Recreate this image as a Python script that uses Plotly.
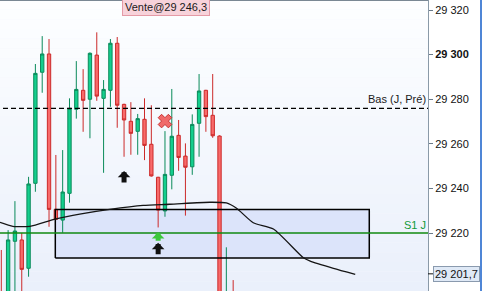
import plotly.graph_objects as go

# ---------------- data ----------------
slots = list(range(35))
opens = [29192, 29188, 29216.3, 29216.9, 29204.2, 29242.3, 29292.1, 29300.3, 29230.6, 29225.8,
         29237.8, 29275.5, 29284.0, 29280.0, 29299.8, 29280.4, 29284.0, 29305.1, 29277.7, 29270.1,
         29265.6, 29271.0, 29259.8, 29245.0, 29229.9, 29245.9, 29263.8, 29254.5, 29249.7, 29269.2,
         29284.0, 29272.8, 29263.5, 29172, 29190]
highs = [29212.4, 29221.3, 29234.3, 29220.0, 29245.2, 29295.8, 29308.3, 29307.0, 29255.0, 29257.2,
         29280.4, 29297.1, 29293.5, 29301.0, 29310.0, 29288.6, 29307.0, 29307.9, 29278.0, 29278.7,
         29273.4, 29280.4, 29277.3, 29245.2, 29265.7, 29284.6, 29270.7, 29260.2, 29273.2, 29291.3,
         29284.2, 29291.3, 29263.8, 29213.6, 29198.9]
lows = [29178, 29184, 29186, 29188, 29200.4, 29238.5, 29282.9, 29222.8, 29225.9, 29220.1,
        29233.6, 29271.3, 29265.4, 29262.5, 29279.3, 29247.0, 29276.6, 29267.2, 29254.2, 29255.1,
        29255.1, 29252.7, 29245.3, 29222.5, 29227.3, 29239.6, 29247.9, 29227.8, 29246.1, 29254.2,
        29265.4, 29262.7, 29170, 29165, 29175]
closes = [29184, 29216.9, 29220.9, 29203.7, 29242.0, 29291.6, 29300.3, 29230.6, 29226.1, 29238.4,
          29275.9, 29284.4, 29279.5, 29300.6, 29281.4, 29284.4, 29305.1, 29277.3, 29270.7, 29264.7,
          29271.3, 29259.3, 29245.6, 29230.3, 29246.3, 29263.4, 29253.9, 29249.5, 29268.7, 29283.7,
          29272.2, 29263.6, 29182, 29186, 29180]

ma_x = [-0.19, 1.7, 4.2, 7.6, 9.6, 11.5, 15.9, 20.8, 24.7, 30.6, 33.0, 34.5, 36.95, 39.9, 44.3, 45.3, 48.7, 51.9]
ma_y = [29224.8, 29223.0, 29223.0, 29226.0, 29227.4, 29228.5, 29230.6, 29232.4, 29232.9, 29233.8,
        29233.5, 29231.1, 29224.6, 29221.8, 29208.9, 29207.4, 29204.2, 29201.5]

zone_x = [7.92, 53.96]
zone_y = [29208.8, 29230.6]

s1_level = 29220.0
s1_label = "S1 J"
bas_level = 29275.9
bas_label = "Bas (J, Pré)"

sell_slot = 24
sell_price = 29270.2
sell_label = "Vente@29 246,3"

buy_slots = [18, 23]
buy_prices = [29247.8, 29215.6]
green_slot = 23
green_price = 29220.4

last_price_label = "29 201,7"
last_price = 29201.7

tick_vals = [29220, 29240, 29260, 29280, 29300, 29320]
tick_text = ["29 220", "29 240", "29 260", "29 280", "<b>29 300</b>", "29 320"]

x_range = [-0.19, 62.57]
y_range = [29194.0, 29324.5]

FONT = "Liberation Sans, Arial, sans-serif"

fig = go.Figure()

# zone rectangle outline (fill is a layout shape underneath the candles)
fig.add_trace(go.Scatter(
    x=[zone_x[0], zone_x[1], zone_x[1], zone_x[0], zone_x[0]],
    y=[zone_y[0], zone_y[0], zone_y[1], zone_y[1], zone_y[0]],
    mode="lines", line=dict(color="#000000", width=1.5), hoverinfo="skip", showlegend=False))

# S1 line
fig.add_trace(go.Scatter(x=x_range, y=[s1_level, s1_level], mode="lines",
                         line=dict(color="#108a10", width=1.5), hoverinfo="skip", showlegend=False))
# Bas dashed line
fig.add_trace(go.Scatter(x=[0.25, x_range[1]], y=[bas_level, bas_level], mode="lines",
                         line=dict(color="#000000", width=1.3, dash="5px,3px"),
                         hoverinfo="skip", showlegend=False))

# moving average
fig.add_trace(go.Scatter(x=ma_x, y=ma_y, mode="lines", line=dict(color="#151515", width=1.3, shape="spline", smoothing=0.6),
                         hoverinfo="skip", showlegend=False))

# candles
fig.add_trace(go.Candlestick(
    x=slots, open=opens, high=highs, low=lows, close=closes,
    increasing=dict(line=dict(color="#0a8a5a", width=1), fillcolor="#14cf8e"),
    decreasing=dict(line=dict(color="#cc2a2a", width=1), fillcolor="#f86a6a"),
    whiskerwidth=0, showlegend=False, hoverinfo="skip"))

# sell marker
fig.add_trace(go.Scatter(x=[sell_slot], y=[sell_price], mode="markers",
                         marker=dict(symbol="x", size=12, color="#f06a6a", line=dict(color="#c83030", width=1)),
                         hoverinfo="skip", showlegend=False))

annotations = []
for s, p in zip(buy_slots, buy_prices):
    annotations.append(dict(x=s, y=p, xref="x", yref="y", text="", showarrow=True,
                            ax=0, ay=13, arrowhead=1, arrowwidth=5, arrowsize=0.42,
                            arrowcolor="#111111", standoff=0))
annotations.append(dict(x=green_slot, y=green_price, xref="x", yref="y", text="", showarrow=True,
                        ax=0, ay=10, arrowhead=1, arrowwidth=5, arrowsize=0.42,
                        arrowcolor="#3cc83c", standoff=0))

annotations.append(dict(x=1, y=bas_level, xref="paper", yref="y", text=bas_label, showarrow=False,
                        xanchor="right", yanchor="bottom", yshift=1,
                        font=dict(family=FONT, size=11, color="#1a1a1a")))
annotations.append(dict(x=1, y=s1_level, xref="paper", yref="y", text=s1_label, showarrow=False,
                        xanchor="right", yanchor="bottom", yshift=0,
                        font=dict(family=FONT, size=11, color="#119a3a")))
annotations.append(dict(x=0.285, y=1, xref="paper", yref="paper", text=sell_label, showarrow=False,
                        xanchor="left", yanchor="top", yshift=2,
                        bgcolor="#f7d2da", bordercolor="#e49aa6", borderwidth=1, borderpad=2,
                        font=dict(family=FONT, size=11, color="#1a1a1a")))
annotations.append(dict(x=1.012, y=last_price, xref="paper", yref="y", text=last_price_label, showarrow=False,
                        xanchor="left", yanchor="middle",
                        bgcolor="#dfe9f6", bordercolor="#8a9aae", borderwidth=1, borderpad=1,
                        font=dict(family=FONT, size=11, color="#111111")))

# background gradient bands
shapes = []
n = 30
top = (253, 254, 255)
bot = (234, 240, 251)
for i in range(n):
    t = i / (n - 1)
    c = tuple(int(round(top[k] + (bot[k] - top[k]) * t)) for k in range(3))
    shapes.append(dict(type="rect", xref="paper", yref="paper", x0=0, x1=1,
                       y0=1 - (i + 1) / n, y1=1 - i / n, line=dict(width=0),
                       fillcolor="rgb(%d,%d,%d)" % c, layer="below"))
# zone fill (below candles)
shapes.append(dict(type="rect", xref="x", yref="y", x0=zone_x[0], x1=zone_x[1],
                   y0=zone_y[0], y1=zone_y[1], line=dict(width=0),
                   fillcolor="#dce4fa", layer="below"))
# top border
shapes.append(dict(type="line", xref="paper", yref="paper", x0=0, x1=1, y0=1, y1=1,
                   line=dict(color="#7a8894", width=2)))
# last price tick
shapes.append(dict(type="line", xref="paper", yref="y", x0=1.0, x1=1.012, y0=last_price, y1=last_price,
                   line=dict(color="#111111", width=1)))
# right blue border
shapes.append(dict(type="rect", xref="paper", yref="paper", x0=1.1215, x1=1.13, y0=0, y1=1,
                   line=dict(width=0), fillcolor="#4f86d6"))

fig.update_layout(
    width=482, height=291,
    margin=dict(l=0, r=54, t=0, b=0),
    paper_bgcolor="#ffffff", plot_bgcolor="#f4f7fd",
    showlegend=False,
    xaxis=dict(range=x_range, visible=False, rangeslider=dict(visible=False), fixedrange=True),
    yaxis=dict(range=y_range, side="right", tickvals=tick_vals, ticktext=tick_text,
               showgrid=False, zeroline=False, showline=True, linecolor="#8a9aa8", linewidth=1,
               ticks="outside", ticklen=4, tickcolor="#6a7a88",
               tickfont=dict(family=FONT, size=11, color="#111111"), fixedrange=True),
    annotations=annotations, shapes=shapes,
)

fig.write_html("out.html")
